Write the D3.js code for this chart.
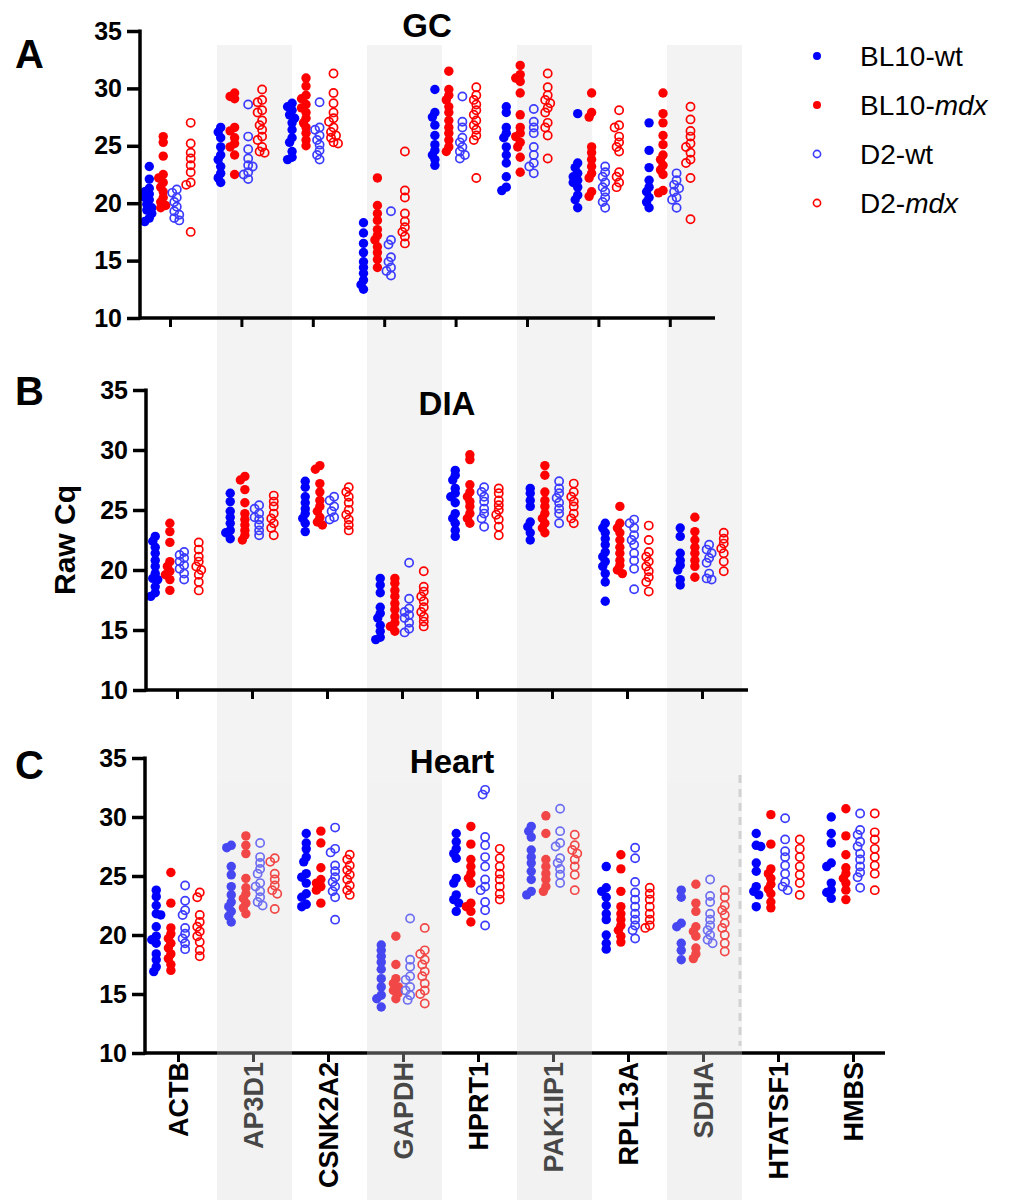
<!DOCTYPE html>
<html>
<head>
<meta charset="utf-8">
<style>
body { margin: 0; background: #fff; }
text { font-family: Arial, "Liberation Sans", sans-serif; fill: #000; }
</style>
</head>
<body>
<script src="https://d3js.org/d3.v7.min.js"></script>
<script>

// genes on the x axis, groups are the 4 strains
var genes = ["ACTB", "AP3D1", "CSNK2A2", "GAPDH", "HPRT1", "PAK1IP1", "RPL13A", "SDHA", "HTATSF1", "HMBS"];
var shaded = ["AP3D1", "GAPDH", "PAK1IP1", "SDHA"];
var groups = ["BL10-wt", "BL10-mdx", "D2-wt", "D2-mdx"];
var yTicks = [10, 15, 20, 25, 30, 35];

// raw Cq per gene: [BL10-wt, BL10-mdx, D2-wt, D2-mdx]
var gcValues = [
  [[23.2, 22.1, 21.3, 21.0, 20.8, 20.5, 20.3, 19.9, 19.6, 19.4, 19.1, 18.7, 18.4],
   [25.8, 25.3, 24.1, 22.5, 22.2, 21.8, 21.4, 21.0, 20.5, 20.1, 19.8, 19.6],
   [21.2, 20.9, 20.5, 20.1, 19.7, 19.3, 19.0, 18.7, 18.5],
   [27.0, 25.2, 24.4, 23.9, 23.3, 22.7, 21.8, 21.6, 17.5]],
  [[26.6, 26.2, 25.7, 24.9, 24.2, 23.8, 23.2, 22.6, 22.2, 21.8],
   [29.6, 29.3, 29.1, 26.6, 26.3, 25.7, 25.2, 24.9, 24.2, 22.5],
   [28.6, 25.8, 24.7, 23.9, 23.3, 23.2, 22.7, 22.5, 22.1],
   [29.9, 29.0, 28.8, 28.1, 27.9, 27.2, 26.8, 26.4, 25.8, 25.5, 24.9, 24.5, 24.4]],
  [[28.7, 28.4, 28.1, 27.7, 27.4, 27.0, 26.4, 25.7, 25.3, 24.5, 24.0, 23.8],
   [30.9, 30.2, 29.4, 29.1, 28.6, 28.3, 27.9, 27.4, 27.0, 26.6, 26.1, 25.5, 25.0],
   [28.8, 26.6, 26.4, 25.9, 25.5, 25.1, 24.6, 24.2, 23.8],
   [31.3, 29.6, 28.7, 27.9, 27.4, 27.1, 26.6, 26.2, 25.9, 25.7, 25.3, 25.2]],
  [[18.3, 17.4, 16.5, 15.7, 14.9, 14.4, 13.9, 13.3, 12.9, 12.5],
   [22.2, 19.8, 19.1, 18.5, 17.7, 17.2, 16.8, 16.2, 15.7, 15.1, 14.4],
   [19.3, 16.8, 16.4, 15.3, 14.9, 14.4, 14.1, 13.7],
   [24.5, 21.1, 20.5, 19.1, 18.4, 17.9, 17.5, 17.1, 16.5]],
  [[29.9, 27.9, 27.5, 26.8, 25.9, 25.1, 24.6, 24.2, 23.8, 23.3],
   [31.5, 29.9, 29.4, 29.0, 28.4, 27.9, 27.2, 26.6, 26.1, 25.5, 24.9, 24.5],
   [29.3, 27.1, 26.6, 25.7, 25.3, 24.9, 24.5, 24.2, 23.9],
   [30.1, 29.4, 29.0, 28.6, 28.1, 27.7, 27.2, 26.8, 26.4, 25.9, 25.5, 22.2]],
  [[28.4, 27.9, 26.6, 26.1, 25.7, 24.9, 24.2, 23.5, 22.3, 21.4, 21.1],
   [32.0, 31.2, 30.9, 30.6, 29.6, 27.7, 26.6, 26.1, 25.8, 25.3, 24.9, 24.0, 22.7],
   [28.2, 27.1, 26.6, 26.1, 24.9, 24.2, 23.5, 23.2, 22.6],
   [31.3, 30.1, 29.4, 29.0, 28.7, 28.3, 27.9, 27.0, 26.6, 25.9, 23.9]],
  [[27.8, 23.5, 23.1, 22.6, 22.3, 22.0, 21.8, 21.4, 20.7, 20.3, 19.6],
   [29.6, 27.9, 27.5, 24.9, 24.4, 23.8, 23.2, 22.6, 22.2, 21.0, 20.6],
   [23.2, 22.7, 22.3, 21.8, 21.4, 21.0, 20.5, 20.1, 19.6],
   [28.1, 26.8, 26.6, 25.8, 25.3, 24.9, 24.5, 22.7, 22.3, 21.8, 21.4]],
  [[27.0, 24.6, 23.1, 22.0, 21.4, 21.0, 20.5, 20.1, 19.6],
   [29.6, 27.8, 27.0, 25.9, 25.1, 24.2, 23.8, 23.3, 22.9, 22.5, 21.1, 20.9],
   [22.6, 22.0, 21.6, 21.3, 21.0, 20.5, 20.3, 19.6],
   [28.4, 27.3, 26.3, 25.8, 25.2, 24.9, 24.4, 23.8, 23.5, 22.2, 18.6]]
];

var diaValues = [
  [[22.8, 22.4, 21.9, 21.4, 20.8, 20.3, 19.7, 19.3, 19.2, 18.6, 18.1, 17.8],
   [23.9, 23.2, 22.3, 20.7, 20.3, 19.9, 19.6, 19.2, 18.3],
   [21.5, 21.25, 21.0, 20.7, 20.4, 20.1, 19.7, 19.2],
   [22.3, 21.7, 21.1, 20.7, 20.3, 20.0, 19.6, 19.0, 18.3]],
  [[26.4, 25.7, 24.9, 24.4, 23.9, 23.3, 23.1, 22.6],
   [27.8, 27.5, 26.7, 25.6, 24.7, 24.2, 23.75, 23.3, 22.9, 22.5],
   [25.4, 25.1, 24.7, 24.4, 24.2, 23.75, 23.3, 22.9],
   [26.2, 25.7, 25.3, 24.7, 24.3, 23.9, 23.5, 22.9]],
  [[27.4, 26.9, 26.1, 25.6, 25.1, 24.7, 24.3, 23.9, 23.2],
   [28.7, 28.4, 27.2, 26.5, 25.8, 25.3, 24.9, 24.4, 24.0, 23.75],
   [26.1, 25.8, 25.3, 24.9, 24.4, 24.2],
   [26.9, 26.5, 26.1, 25.6, 25.0, 24.6, 24.2, 23.75, 23.3]],
  [[19.3, 18.75, 18.1, 16.9, 16.4, 16.0, 15.4, 14.9, 14.4, 14.2],
   [19.3, 18.9, 18.3, 17.8, 17.2, 16.7, 16.1, 15.6, 15.3, 14.9],
   [20.6, 17.6, 16.8, 16.5, 16.25, 16.0, 15.6, 15.1, 14.8],
   [19.9, 18.6, 18.2, 17.8, 17.4, 16.9, 16.5, 16.1, 15.7, 15.3]],
  [[28.3, 27.9, 27.5, 26.8, 26.4, 26.1, 25.6, 24.7, 24.3, 23.9, 23.3, 22.8],
   [29.6, 29.2, 27.1, 26.5, 26.1, 25.7, 25.3, 24.7, 24.3, 23.9],
   [26.9, 26.5, 26.1, 25.7, 25.1, 24.7, 24.3, 23.6],
   [26.8, 26.4, 25.8, 25.4, 25.0, 24.6, 24.2, 23.6, 22.9]],
  [[26.8, 26.4, 25.8, 25.3, 24.0, 23.6, 23.1, 22.5],
   [28.7, 27.9, 26.5, 25.8, 25.3, 24.7, 24.3, 23.9, 23.5, 23.1],
   [27.4, 26.8, 26.4, 26.0, 25.6, 25.1, 24.7, 23.9],
   [27.2, 26.5, 26.1, 25.7, 25.3, 24.7, 24.3, 23.9]],
  [[23.9, 23.5, 23.1, 22.6, 22.1, 21.5, 21.1, 20.7, 20.3, 19.7, 19.0, 17.4],
   [25.3, 23.9, 23.5, 23.1, 22.5, 21.9, 21.4, 20.8, 20.4, 20.0, 19.7],
   [24.2, 23.9, 23.5, 22.9, 22.5, 22.1, 21.4, 20.8, 20.1, 18.4],
   [23.7, 22.5, 21.5, 21.1, 20.7, 20.3, 19.9, 19.4, 19.0, 18.2]],
  [[23.5, 22.8, 21.4, 20.8, 20.4, 20.0, 19.2, 18.75],
   [24.4, 23.2, 22.5, 21.9, 21.4, 20.8, 20.3, 19.4],
   [22.1, 21.7, 21.4, 21.0, 20.6, 19.7, 19.3, 19.2],
   [23.1, 22.6, 22.2, 21.8, 21.4, 20.7, 19.9]]
];

var heartValues = [
  [[23.8, 23.25, 22.5, 21.8, 21.7, 20.7, 19.9, 19.6, 19.3, 18.4, 17.9, 17.3, 16.9],
   [25.3, 22.7, 20.6, 20.1, 19.7, 19.3, 18.9, 18.4, 18.0, 17.5, 17.0],
   [24.2, 22.9, 22.1, 21.7, 20.6, 20.1, 19.7, 19.3, 18.8],
   [23.6, 23.2, 21.7, 21.1, 20.7, 20.3, 19.9, 19.4, 18.7, 18.2]],
  [[27.6, 27.4, 25.8, 25.1, 24.1, 23.4, 22.8, 22.4, 22.0, 21.6, 21.1],
   [28.4, 27.6, 26.9, 24.8, 24.0, 23.5, 23.1, 22.7, 22.3, 21.8],
   [27.8, 26.6, 26.1, 25.6, 25.2, 24.4, 24.1, 23.7, 23.2, 22.8, 22.5],
   [26.5, 26.2, 25.2, 24.7, 24.2, 23.8, 23.5, 22.2]],
  [[28.6, 27.8, 27.3, 26.6, 26.2, 25.2, 24.9, 24.4, 23.5, 23.2, 22.6, 22.4],
   [28.8, 27.8, 25.7, 24.7, 24.4, 24.1, 23.8, 22.7],
   [29.1, 27.3, 27.0, 25.9, 25.4, 24.9, 24.5, 24.1, 23.7, 23.2, 21.3],
   [26.8, 26.4, 25.9, 25.5, 25.1, 24.7, 24.2, 23.8, 23.4]],
  [[19.15, 18.7, 18.2, 17.7, 17.1, 16.3, 15.6, 14.9, 14.6, 13.9],
   [19.9, 17.5, 16.3, 15.9, 15.6, 15.3, 15.1, 14.6],
   [21.4, 17.9, 17.3, 16.5, 16.2, 15.6, 15.3, 14.9, 14.5],
   [20.6, 18.7, 18.4, 17.9, 17.5, 16.9, 16.5, 15.9, 15.3, 15.0, 14.2]],
  [[28.6, 27.9, 27.3, 26.9, 26.5, 24.8, 24.4, 23.4, 23.0, 22.7, 22.0],
   [29.2, 27.7, 26.4, 25.8, 25.2, 24.8, 24.4, 22.7, 22.4, 22.0, 21.1],
   [32.3, 31.9, 28.3, 27.6, 26.6, 25.8, 24.7, 24.1, 23.8, 22.8, 22.1, 20.8],
   [27.3, 26.5, 25.8, 25.2, 24.7, 24.1, 23.5, 23.0]],
  [[29.2, 28.8, 28.3, 27.2, 26.6, 26.1, 25.4, 24.7, 23.7, 23.4],
   [30.1, 28.6, 26.4, 25.8, 25.2, 24.7, 24.1, 23.7],
   [30.7, 28.8, 27.8, 27.5, 26.5, 26.1, 25.6, 25.1, 24.4],
   [28.5, 27.6, 27.2, 26.9, 26.4, 25.8, 25.1, 23.8]],
  [[25.8, 24.0, 23.7, 23.2, 22.5, 21.8, 21.3, 20.0, 19.3, 18.8],
   [26.8, 25.6, 23.7, 22.4, 21.8, 21.3, 20.8, 20.4, 19.9, 19.4],
   [27.4, 26.5, 24.5, 23.6, 23.0, 22.4, 21.8, 21.3, 20.8, 20.4, 19.7],
   [24.0, 23.5, 23.0, 22.4, 21.8, 21.3, 20.8, 20.6]],
  [[23.8, 23.2, 21.0, 20.7, 19.3, 18.7, 17.9],
   [24.3, 22.7, 22.0, 20.7, 20.3, 19.9, 18.9, 18.4, 18.0],
   [24.7, 23.3, 22.8, 21.8, 21.3, 20.8, 20.4, 20.0, 19.6, 19.3],
   [23.8, 23.2, 22.5, 22.1, 21.7, 21.0, 20.6, 20.0, 19.3, 18.6]],
  [[28.6, 27.6, 27.5, 26.1, 25.4, 24.1, 23.7, 23.4, 22.4],
   [30.2, 27.7, 25.6, 25.2, 24.8, 24.3, 23.9, 23.5, 22.8, 22.3],
   [29.9, 28.1, 27.1, 26.6, 25.9, 25.2, 24.5, 24.1, 23.8],
   [28.1, 27.3, 26.6, 25.8, 25.1, 24.4, 23.4]],
  [[30.0, 28.6, 27.8, 26.1, 25.8, 24.4, 23.8, 23.6, 23.1],
   [30.7, 28.4, 26.8, 25.7, 25.2, 24.8, 24.4, 23.8, 23.0],
   [30.3, 28.9, 28.5, 27.9, 27.5, 26.9, 26.4, 25.8, 25.3, 24.9, 24.0],
   [30.3, 28.7, 28.1, 27.3, 26.6, 25.9, 25.2, 23.8]]
];

var width = 1015, height = 1200;
var font = "Arial, 'Liberation Sans', sans-serif";

var styles = [
  {fill: "#0000ff", stroke: "none", r: 4.7},
  {fill: "#ff0000", stroke: "none", r: 4.7},
  {fill: "none", stroke: "#3c3cff", r: 4.1},
  {fill: "none", stroke: "#ff0000", r: 4.1}
];

var panels = [
  {letter: "A", title: "GC", values: gcValues, top: 31, bottom: 318, axisX: 140, axisEnd: 715,
   first: 170, step: 71.4, letterY: 68, titleX: 427, titleY: 37},
  {letter: "B", title: "DIA", values: diaValues, top: 390, bottom: 690, axisX: 146, axisEnd: 748,
   first: 177, step: 75, letterY: 405, titleX: 447, titleY: 415},
  {letter: "C", title: "Heart", values: heartValues, top: 758, bottom: 1053, axisX: 145, axisEnd: 885,
   first: 178, step: 75, letterY: 779, titleX: 452, titleY: 773, labels: true}
];

var svg = d3.select("body").append("svg")
    .attr("width", width)
    .attr("height", height);

// x position of a gene in the heart panel, used for the grey bands
var bandX = d3.scalePoint().domain(genes).range([178, 178 + 75 * 9]);
var overlayTop = 782;

// grey bands behind panels A, B and the heart title
svg.append("g").selectAll("rect")
    .data(shaded)
    .enter().append("rect")
    .attr("x", function(d) { return bandX(d) - 36; })
    .attr("width", 75)
    .attr("y", 45)
    .attr("height", overlayTop - 45)
    .attr("fill", "#f3f3f3");

function swarm(vals, cx, y) {
  var placed = [];
  var offs = [0, -2.5, 2.5, -4.5, 4.5];
  return vals.slice().sort(d3.descending).map(function(v) {
    var py = y(v), px = cx;
    for (var i = 0; i < offs.length; i++) {
      px = cx + offs[i];
      var clash = placed.some(function(p) { return Math.hypot(p[0] - px, p[1] - py) < 4.8; });
      if (!clash) break;
    }
    placed.push([px, py]);
    return [px, py];
  });
}

panels.forEach(function(p) {
  var n = p.values.length;
  var g = svg.append("g");
  var y = d3.scaleLinear().domain([10, 35]).range([p.bottom, p.top]);
  var x = d3.scalePoint().domain(genes.slice(0, n)).range([p.first, p.first + p.step * (n - 1)]);
  var offset = [-0.29, -0.095, 0.095, 0.29];

  // points
  p.values.forEach(function(geneVals, gi) {
    geneVals.forEach(function(vals, k) {
      var cx = x(genes[gi]) + offset[k] * p.step;
      var st = styles[k];
      g.append("g").selectAll("circle")
          .data(swarm(vals, cx, y))
          .enter().append("circle")
          .attr("cx", function(d) { return d[0]; })
          .attr("cy", function(d) { return d[1]; })
          .attr("r", st.r)
          .attr("fill", st.fill)
          .attr("stroke", st.stroke)
          .attr("stroke-width", 1.7);
    });
  });

  // y axis
  var yAxis = g.append("g")
      .attr("transform", "translate(" + p.axisX + ",0)")
      .call(d3.axisLeft(y).tickValues(yTicks).tickSize(13).tickPadding(5));
  yAxis.select(".domain").remove();
  yAxis.selectAll("line").attr("stroke", "#000").attr("stroke-width", 3.5);
  yAxis.selectAll("text")
      .style("font-family", font)
      .style("font-size", "25px")
      .style("font-weight", "bold")
      .attr("fill", "#000");
  g.append("line")
      .attr("x1", p.axisX).attr("x2", p.axisX)
      .attr("y1", p.top - 1.5).attr("y2", p.bottom + 1.5)
      .attr("stroke", "#000").attr("stroke-width", 3.5);

  // x axis
  var xAxis = g.append("g")
      .attr("transform", "translate(0," + p.bottom + ")")
      .call(d3.axisBottom(x).tickSize(9).tickFormat(""));
  xAxis.select(".domain").remove();
  xAxis.selectAll("line").attr("stroke", "#000").attr("stroke-width", 3);
  g.append("line")
      .attr("x1", p.axisX).attr("x2", p.axisEnd)
      .attr("y1", p.bottom).attr("y2", p.bottom)
      .attr("stroke", "#000").attr("stroke-width", 3.5);

  if (p.labels) {
    g.append("g").selectAll("text")
        .data(genes)
        .enter().append("text")
        .attr("transform", function(d) { return "translate(" + (x(d) + 10) + "," + (p.bottom + 9) + ") rotate(-90)"; })
        .attr("text-anchor", "end")
        .style("font-size", "27px")
        .style("font-weight", "bold")
        .text(function(d) { return d; });
  }

  g.append("text")
      .attr("x", 15).attr("y", p.letterY)
      .style("font-size", "40px")
      .style("font-weight", "bold")
      .text(p.letter);

  g.append("text")
      .attr("x", p.titleX).attr("y", p.titleY)
      .attr("text-anchor", "middle")
      .style("font-size", "33px")
      .style("font-weight", "bold")
      .text(p.title);
});

svg.append("text")
    .attr("transform", "translate(75,540) rotate(-90)")
    .attr("text-anchor", "middle")
    .style("font-size", "30px")
    .style("font-weight", "bold")
    .text("Raw Cq");

// dashed separator before the extra genes
svg.append("line")
    .attr("x1", 740).attr("x2", 740)
    .attr("y1", 775).attr("y2", 1046)
    .attr("stroke", "#d0d0d0")
    .attr("stroke-width", 3)
    .attr("stroke-dasharray", "8,6");

// grey bands laid over panel C and the gene labels
svg.append("g").selectAll("rect")
    .data(shaded)
    .enter().append("rect")
    .attr("x", function(d) { return bandX(d) - 36; })
    .attr("width", 75)
    .attr("y", overlayTop)
    .attr("height", height - overlayTop)
    .attr("fill", "#d7d7d7")
    .attr("fill-opacity", 0.33);

// legend
var legend = svg.append("g").selectAll("g")
    .data(groups)
    .enter().append("g")
    .attr("transform", function(d, i) { return "translate(817," + (56 + i * 49) + ")"; });

legend.append("circle")
    .attr("r", function(d, i) { return i < 2 ? 4 : 3.6; })
    .attr("fill", function(d, i) { return styles[i].fill; })
    .attr("stroke", function(d, i) { return styles[i].stroke; })
    .attr("stroke-width", 1.6);

legend.append("text")
    .attr("x", 43)
    .attr("y", 10)
    .style("font-size", "28px")
    .each(function(d) {
      var parts = d.split("-");
      var t = d3.select(this);
      t.append("tspan").text(parts[0] + "-");
      t.append("tspan")
          .style("font-style", parts[1] == "mdx" ? "italic" : "normal")
          .text(parts[1]);
    });

</script>
</body>
</html>
